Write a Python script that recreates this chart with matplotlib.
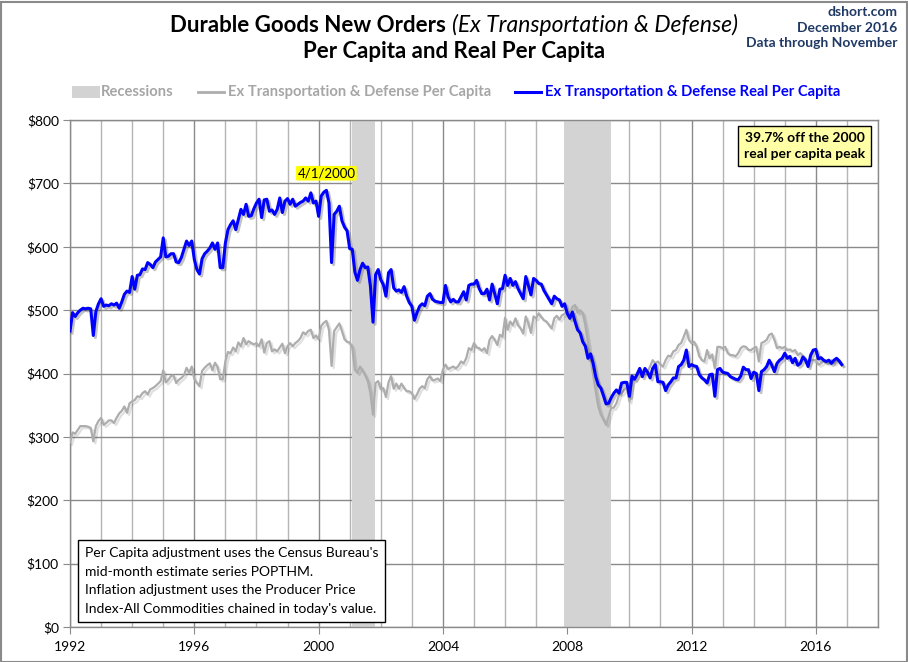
import numpy as np
import matplotlib
matplotlib.use("Agg")
import matplotlib.pyplot as plt
import matplotlib.patheffects as pe
from matplotlib.patches import Rectangle
from matplotlib.ticker import MultipleLocator, FuncFormatter

plt.rcParams['font.family'] = ['Lato', 'DejaVu Sans']

START_YEAR = 1992

# monthly, Jan 1992 .. Nov 2016 (one row per year)
real_per_capita = [
    467, 496, 490, 496, 500, 503, 502, 503, 502, 460, 498, 510,
    518, 506, 508, 507, 510, 508, 511, 503, 513, 525, 530, 528,
    553, 533, 555, 556, 565, 564, 575, 572, 567, 576, 580, 584,
    614, 584, 585, 589, 589, 576, 575, 583, 596, 609, 602, 609,
    580, 564, 557, 581, 589, 593, 598, 606, 596, 606, 567, 567,
    606, 627, 635, 641, 627, 643, 659, 651, 667, 648, 649, 660,
    669, 675, 646, 674, 675, 656, 658, 651, 659, 677, 654, 672,
    676, 667, 675, 664, 667, 670, 672, 677, 672, 685, 669, 672,
    648, 680, 686, 689, 669, 575, 651, 656, 664, 641, 631, 625,
    597, 596, 560, 547, 564, 574, 567, 568, 538, 481, 556, 564,
    548, 540, 522, 559, 564, 535, 530, 532, 528, 537, 522, 512,
    506, 484, 496, 506, 510, 507, 522, 526, 517, 514, 513, 512,
    512, 539, 521, 513, 517, 513, 513, 521, 529, 516, 539, 541,
    541, 547, 534, 526, 526, 533, 516, 541, 526, 510, 533, 534,
    555, 539, 550, 539, 545, 534, 526, 518, 553, 539, 524, 550,
    547, 542, 541, 531, 524, 517, 510, 522, 518, 516, 506, 510,
    495, 487, 497, 482, 469, 464, 450, 443, 424, 431, 416, 395,
    382, 377, 365, 352, 353, 362, 369, 374, 369, 385, 386, 386,
    364, 396, 391, 399, 408, 395, 408, 402, 393, 408, 414, 387,
    387, 386, 373, 382, 387, 393, 393, 411, 414, 421, 437, 411,
    414, 412, 411, 398, 393, 390, 385, 398, 399, 364, 406, 408,
    402, 401, 400, 395, 393, 391, 390, 396, 410, 406, 406, 392,
    402, 400, 373, 403, 406, 411, 421, 413, 403, 416, 421, 424,
    432, 424, 427, 417, 424, 413, 416, 426, 421, 411, 429, 437,
    438, 423, 425, 421, 419, 421, 416, 421, 424, 420, 414,
]

nominal_per_capita = [
    291, 307, 305, 311, 317, 317, 317, 316, 314, 293, 317, 325,
    330, 319, 322, 326, 326, 322, 330, 337, 341, 348, 338, 353,
    356, 358, 364, 363, 369, 372, 367, 375, 377, 380, 384, 388,
    405, 386, 390, 396, 397, 385, 390, 393, 397, 409, 401, 411,
    391, 385, 380, 404, 409, 413, 416, 405, 417, 410, 391, 391,
    419, 434, 432, 441, 435, 449, 443, 456, 446, 451, 448, 446,
    448, 443, 454, 433, 448, 451, 435, 438, 435, 441, 447, 432,
    443, 448, 443, 448, 451, 456, 465, 462, 467, 469, 456, 460,
    454, 475, 480, 483, 469, 412, 467, 473, 479, 467, 454, 450,
    449, 441, 406, 401, 411, 404, 397, 388, 369, 335, 385, 388,
    375, 377, 363, 386, 396, 376, 384, 376, 384, 377, 372, 372,
    369, 360, 367, 376, 380, 377, 391, 396, 389, 390, 392, 388,
    406, 414, 407, 409, 411, 408, 412, 419, 416, 424, 440, 437,
    448, 441, 440, 436, 440, 432, 453, 459, 453, 445, 461, 458,
    488, 469, 482, 476, 487, 476, 471, 463, 490, 479, 464, 490,
    487, 495, 489, 484, 482, 476, 471, 487, 491, 485, 492, 494,
    500, 494, 505, 508, 496, 500, 495, 476, 448, 424, 398, 372,
    348, 335, 327, 319, 332, 346, 346, 353, 366, 369, 374, 379,
    356, 387, 390, 396, 401, 398, 406, 403, 411, 421, 416, 419,
    414, 411, 421, 428, 427, 435, 437, 445, 448, 458, 469, 453,
    448, 450, 442, 427, 421, 419, 437, 424, 430, 408, 442, 442,
    440, 442, 432, 429, 429, 427, 432, 440, 443, 442, 437, 437,
    440, 442, 419, 448, 450, 453, 461, 463, 453, 440, 442, 440,
    442, 437, 438, 435, 437, 429, 432, 428, 424, 414, 421, 421,
    421, 414, 416, 419, 417, 416, 421, 416, 420, 418, 414,
]

recession_start = [2001.08, 2007.88]
recession_end = [2001.83, 2009.42]

peak_label = "4/1/2000"
peak_date = 2000.25

x = START_YEAR + np.arange(len(real_per_capita)) / 12.0
real = np.asarray(real_per_capita, dtype=float)
nominal = np.asarray(nominal_per_capita, dtype=float)

W, H = 908, 662
fig = plt.figure(figsize=(W / 100, H / 100), dpi=100)
ax = fig.add_axes([70 / W, 35 / H, 808 / W, 507 / H])

# recessions
for a, b in zip(recession_start, recession_end):
    ax.axvspan(a, b, color='#d3d3d3', lw=0, zorder=1)

ax.set_xlim(1992, 2018)
ax.set_ylim(0, 800)
ax.xaxis.set_major_locator(MultipleLocator(4))
ax.xaxis.set_minor_locator(MultipleLocator(1))
ax.yaxis.set_major_locator(MultipleLocator(100))
ax.yaxis.set_major_formatter(FuncFormatter(lambda v, _: f"${v:.0f}"))
ax.grid(True, which='minor', axis='x', color='#b5b5b5', lw=1.0, zorder=0)
ax.grid(True, which='major', axis='x', color='#8a8a8a', lw=1.0, zorder=0)
ax.grid(True, which='major', axis='y', color='#8a8a8a', lw=1.0, zorder=0)
ax.set_axisbelow(True)
for s in ax.spines.values():
    s.set_color('#8a8a8a')
    s.set_linewidth(1.0)
ax.tick_params(which='major', length=5, color='#8a8a8a', labelsize=10, pad=3)
ax.tick_params(which='minor', length=0)
ax.tick_params(axis='x', pad=5)

ax.plot(x, nominal, color='#adadad', lw=1.6, zorder=3,
        path_effects=[pe.SimpleLineShadow(offset=(1.5, -1.5), alpha=0.12), pe.Normal()])
ax.plot(x, real, color='#0000ff', lw=2.2, zorder=4,
        path_effects=[pe.SimpleLineShadow(offset=(1.5, -1.5), shadow_color='#555555', alpha=0.35),
                      pe.Normal()])

# peak label
ax.annotate(peak_label, (peak_date, real.max()), xytext=(0, 8), textcoords='offset points',
            ha='center', va='bottom', fontsize=9.5,
            bbox=dict(boxstyle='round,pad=0.1', fc='#ffff00', ec='none'))

ax.text(0.909, 0.976, "39.7% off the 2000\nreal per capita peak", transform=ax.transAxes,
        ha='center', va='top', fontsize=10, fontweight='bold', linespacing=1.4,
        bbox=dict(boxstyle='square,pad=0.45', fc='#ffffa6', ec='black', lw=1.0), zorder=6)

note = ("Per Capita adjustment uses the Census Bureau's\n"
        "mid-month estimate series POPTHM.\n"
        "Inflation adjustment uses the Producer Price\n"
        "Index-All Commodities chained in today's value.")
ax.text(0.018, 0.158, note, transform=ax.transAxes, ha='left', va='top', fontsize=10,
        linespacing=1.68,
        bbox=dict(boxstyle='square,pad=0.5', fc='white', ec='black', lw=1.0), zorder=6)

# title, first line: bold part + italic part laid out together
ty = 1 - 25 / H
tb = fig.text(0, ty, "Durable Goods New Orders ", ha='left', va='center',
              fontsize=16, fontweight='bold')
ti = fig.text(0, ty, "(Ex Transportation & Defense)", ha='left', va='center',
              fontsize=16.5, style='italic')
r = fig.canvas.get_renderer()
wb = tb.get_window_extent(r).width
wi = ti.get_window_extent(r).width
left = 454 - (wb + wi) / 2
tb.set_x(left / W)
ti.set_x((left + wb) / W)
fig.text(454 / W, 1 - 52 / H, "Per Capita and Real Per Capita", ha='center', va='center',
         fontsize=16, fontweight='bold')

navy = '#1f3864'
for i, s in enumerate(["dshort.com", "December 2016", "Data through November"]):
    fig.text(897 / W, 1 - (12 + 15.5 * i) / H, s, ha='right', va='center',
             fontsize=10, fontweight='bold', color=navy)

# legend row
ly = 1 - 92 / H
fig.patches.append(Rectangle((72 / W, ly - 6 / H), 28 / W, 12 / H,
                             transform=fig.transFigure, fc='#d3d3d3', ec='none'))
fig.text(101 / W, ly, "Recessions", ha='left', va='center', fontsize=10.6,
         fontweight='bold', color='#a6a6a6')
fig.lines.append(plt.Line2D([198 / W, 224 / W], [ly, ly], transform=fig.transFigure,
                            color='#adadad', lw=2))
fig.text(228 / W, ly, "Ex Transportation & Defense Per Capita", ha='left', va='center',
         fontsize=10.6, fontweight='bold', color='#a6a6a6')
fig.lines.append(plt.Line2D([515 / W, 541 / W], [ly, ly], transform=fig.transFigure,
                            color='#0000ff', lw=2.2))
fig.text(545 / W, ly, "Ex Transportation & Defense Real Per Capita", ha='left', va='center',
         fontsize=10.6, fontweight='bold', color='#0000ff')

# outer frame
fig.patches.append(Rectangle((0.5 / W, 0.5 / H), (W - 2) / W, (H - 2) / H,
                             transform=fig.transFigure, fc='none', ec='#8a8a8a', lw=1.5))

fig.savefig("out.png", dpi=100)
